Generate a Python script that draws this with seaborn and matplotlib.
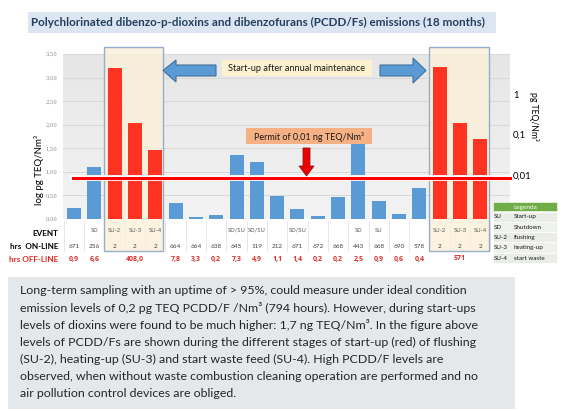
import numpy as np
import pandas as pd
import matplotlib
matplotlib.use("Agg")
import matplotlib.pyplot as plt
import seaborn as sns
from matplotlib.patches import Rectangle, Polygon
from matplotlib.transforms import blended_transform_factory
from matplotlib.colors import LinearSegmentedColormap
import matplotlib.patheffects as pe

# ---------------- data ----------------
values = [0.23, 1.10, 3.21, 2.04, 1.47, 0.34, 0.04, 0.09, 1.36, 1.21, 0.49,
          0.21, 0.07, 0.47, 1.60, 0.38, 0.11, 0.66, 3.23, 2.04, 1.70]
kinds = ["normal", "normal", "startup", "startup", "startup", "normal", "normal",
         "normal", "normal", "normal", "normal", "normal", "normal", "normal",
         "normal", "normal", "normal", "normal", "startup", "startup", "startup"]
events = ["", "SD", "SU-2", "SU-3", "SU-4", "", "", "", "SD/SU", "SD/SU", "",
          "SD/SU", "", "", "SD", "SU", "", "", "SU-2", "SU-3", "SU-4"]
hrs_online = ["671", "256", "2", "2", "2", "664", "664", "638", "645", "119", "212",
              "671", "672", "668", "443", "668", "690", "578", "2", "2", "2"]
hrs_offline = ["0,9", "6,6", "", "408,0", "", "7,8", "3,3", "0,2", "7,3", "4,9", "1,1",
               "1,4", "0,2", "0,2", "2,5", "0,9", "0,6", "0,4", "", "571", ""]
permit_level = 0.87
yticks = [0.0, 0.5, 1.0, 1.5, 2.0, 2.5, 3.0, 3.5]
right_labels = ["1", "0,1", "0,01"]
legend_abbr = ["SU", "SD", "SU-2", "SU-3", "SU-4"]
legend_desc = ["Start-up", "Shutdown", "flushing", "heating-up", "start waste"]

title = "Polychlorinated dibenzo-p-dioxins and dibenzofurans (PCDD/Fs) emissions (18 months)"
body_lines = [
    "Long-term sampling with an uptime of > 95%, could measure under ideal condition",
    "emission levels of 0,2 pg TEQ PCDD/F /Nm³ (794 hours). However, during start-ups",
    "levels of dioxins were found to be much higher: 1,7 ng TEQ/Nm³. In the figure above",
    "levels of PCDD/Fs are shown during the different stages of start-up (red) of flushing",
    "(SU-2), heating-up (SU-3) and start waste feed (SU-4). High PCDD/F levels are",
    "observed, when without waste combustion cleaning operation are performed and no",
    "air pollution control devices are obliged.",
]

df = pd.DataFrame({"idx": np.arange(len(values)), "value": values, "kind": kinds})

# ---------------- figure ----------------
plt.rcParams["font.family"] = ["Lato", "DejaVu Sans"]
W, H = 573, 411
fig = plt.figure(figsize=(W / 100, H / 100), dpi=100)
fig.patch.set_facecolor("white")

def fx(x):
    return x / W

def fy(y):
    return 1 - y / H

ax = fig.add_axes([fx(63), fy(219), (510 - 63) / W, (219 - 54) / H])

sns.barplot(data=df, x="idx", y="value", hue="kind", native_scale=True, dodge=False,
            palette={"normal": "#5b9bd5", "startup": "#ff3322"}, saturation=1,
            width=0.69, legend=False, ax=ax)
for p in list(ax.patches):
    p.set_zorder(2)
    p.set_linewidth(0)

# background gradient
grad = np.linspace(0, 1, 100).reshape(-1, 1)
cm = LinearSegmentedColormap.from_list("bg", ["#e6e6e6", "#f3f3f3"])
ax.imshow(grad, extent=(0, 1, 0, 1), transform=ax.transAxes, aspect="auto",
          cmap=cm, zorder=0, origin="upper")

ax.set_xlim(-0.54, 21.46)
ax.set_ylim(0, 3.5)
ax.set_yticks(yticks)
ax.set_yticklabels([f"{t:.2f}".replace(".", ",") for t in yticks],
                   fontsize=3.8, color="#8a8a8a", family="DejaVu Serif")
ax.tick_params(axis="y", length=0, pad=4)
ax.set_xticks([])
ax.set_xlabel("")
ax.set_ylabel("")
for s in ax.spines.values():
    s.set_visible(False)
ax.yaxis.grid(True, color="#d9d9d9", lw=0.7)
ax.set_axisbelow(True)

# red permit line
ax.axhline(permit_level, xmin=(73 - 63) / 447, xmax=1.0, color="#ff0000", lw=2.2,
           zorder=3, clip_on=False,
           path_effects=[pe.Stroke(linewidth=4.2, foreground="white"), pe.Normal()])

# table area background & separators
tF = fig.transFigure
ax.add_artist(Rectangle((fx(66), fy(252)), (510 - 66) / W, (252 - 220) / H,
                        transform=tF, facecolor="white", edgecolor="none",
                        clip_on=False, zorder=0.3))
trans = blended_transform_factory(ax.transData, tF)
for b in np.arange(-0.5, 21.0, 1.0):
    ax.plot([b, b], [fy(221), fy(251)], transform=trans, color="#dcdcdc", lw=0.5,
            clip_on=False, zorder=0.4)

# highlight boxes
for (x0, x1) in [(104, 163), (429, 489)]:
    ax.add_artist(Rectangle((fx(x0), fy(251)), (x1 - x0) / W, (251 - 47) / H,
                            transform=tF, facecolor="#fbf1d8", alpha=0.8,
                            edgecolor="none", clip_on=False, zorder=0.6))
    ax.add_artist(Rectangle((fx(x0), fy(251)), (x1 - x0) / W, (251 - 47) / H,
                            transform=tF, facecolor="none",
                            edgecolor="#94aecb", lw=1.0, clip_on=False, zorder=2.5))

# table texts
for i in range(len(values)):
    if events[i]:
        ax.text(i, fy(230), events[i], transform=trans, ha="center", va="center",
                fontsize=4.2, color="#595959", clip_on=False, zorder=4)
    ax.text(i, fy(246), hrs_online[i], transform=trans, ha="center", va="center",
            fontsize=4.6, color="#404040", clip_on=False, zorder=4)
    if hrs_offline[i]:
        ax.text(i, fy(259), hrs_offline[i], transform=trans, ha="center", va="center",
                fontsize=5.0, color="#d9302a", fontweight="bold", family="Open Sans",
                clip_on=False, zorder=4)

fig.text(fx(58), fy(233), "EVENT", ha="right", va="center", fontsize=5.9,
         fontweight="bold", color="#000000")
fig.text(fx(58), fy(246), "hrs  ON-LINE", ha="right", va="center", fontsize=5.9,
         fontweight="bold", color="#000000")
fig.text(fx(58), fy(259), "hrs OFF-LINE", ha="right", va="center", fontsize=5.9,
         fontweight="bold", color="#e02b20")

# axis labels
fig.text(fx(39), fy(170), "log pg TEQ/Nm³", rotation=90, ha="center", va="center",
         fontsize=7, color="#000000")
fig.text(fx(534), fy(116), "pg TEQ/Nm³", rotation=270, ha="center", va="center",
         fontsize=6.2, color="#000000")
for lab, yy in zip(right_labels, [95, 135, 176]):
    fig.text(fx(513), fy(yy), lab, ha="left", va="center", fontsize=6.8, color="#000000")

# title
fig.add_artist(Rectangle((fx(28), fy(33)), (496 - 28) / W, (33 - 12) / H,
                         transform=tF, facecolor="#dce6f2", edgecolor="none", zorder=1))
fig.text(fx(258), fy(22.5), title, ha="center", va="center", fontsize=8.4,
         fontweight="bold", color="#243f60", zorder=3)

# arrows (start-up after annual maintenance)
arrow_kw = dict(transform=tF, facecolor="#5b9bd5", edgecolor="#41719c", lw=0.8, zorder=5)
left_arrow = [(216, 65), (176, 65), (176, 60), (163, 70.5), (176, 82), (176, 76), (216, 76)]
right_arrow = [(380, 65), (413, 65), (413, 58), (426, 70.5), (413, 83), (413, 76), (380, 76)]
for poly in (left_arrow, right_arrow):
    fig.add_artist(Polygon([(fx(a), fy(b)) for a, b in poly], closed=True, **arrow_kw))
fig.add_artist(Rectangle((fx(222), fy(76)), (372 - 222) / W, (76 - 60) / H,
                         transform=tF, facecolor="#fdf1cf", edgecolor="none", zorder=5))
fig.text(fx(297), fy(68.5), "Start-up after annual maintenance", ha="center",
         va="center", fontsize=6.6, color="#1a1a1a", zorder=6)

# permit box and red arrow
fig.add_artist(Rectangle((fx(246), fy(144)), (372 - 246) / W, (144 - 128) / H,
                         transform=tF, facecolor="#f5b084", edgecolor="none", zorder=5))
fig.text(fx(309), fy(136.5), "Permit of 0,01 ng TEQ/Nm³", ha="center", va="center",
         fontsize=6.5, color="#1a1a1a", zorder=6)
down_arrow = [(303, 148), (310, 148), (310, 166), (314, 166), (306.5, 176),
              (299, 166), (303, 166)]
fig.add_artist(Polygon([(fx(a), fy(b)) for a, b in down_arrow], closed=True,
                       transform=tF, facecolor="#ee0000", edgecolor="#8c1a1a",
                       lw=0.6, zorder=5))

# legend table
lx0, lx1 = 493, 557
fig.add_artist(Rectangle((fx(lx0), fy(211.5)), (lx1 - lx0) / W, 9.5 / H, transform=tF,
                         facecolor="#70ad47", edgecolor="white", lw=0.4, zorder=5))
fig.text(fx((lx0 + lx1) / 2), fy(207), "Legenda", ha="center", va="center",
         fontsize=4.6, color="white", zorder=6)
for k, (a, d) in enumerate(zip(legend_abbr, legend_desc)):
    top = 211.5 + k * 10.3
    fig.add_artist(Rectangle((fx(lx0), fy(top + 10.3)), (lx1 - lx0) / W, 10.3 / H,
                             transform=tF, facecolor="#e9ede6" if k % 2 == 0 else "#eff1ed",
                             edgecolor="white", lw=0.5, zorder=5))
    yc = top + 5.3
    fig.text(fx(494), fy(yc), a, ha="left", va="center", fontsize=4.5,
             color="#1a1a1a", zorder=6)
    fig.text(fx(514), fy(yc), d, ha="left", va="center", fontsize=4.5,
             color="#1a1a1a", zorder=6)

# body text box
fig.add_artist(Rectangle((fx(8), fy(409)), (515 - 8) / W, (409 - 277) / H,
                         transform=tF, facecolor="#e5e8ea", edgecolor="none", zorder=1))
for k, line in enumerate(body_lines):
    fig.text(fx(20), fy(290.5 + 17.2 * k), line, ha="left", va="center",
             fontsize=8.95, color="#262626", zorder=3)

fig.savefig("out.png", dpi=100)
